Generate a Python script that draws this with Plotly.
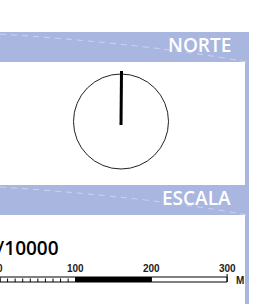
import plotly.graph_objects as go

# ---- data ----
panel_titles = ["NORTE", "ESCALA"]
scale_label = "1/10000"
scale_ticks = [0, 100, 200, 300]
scale_tick_labels = ["0", "100", "200", "300"]
minor_ticks = [0, 10, 20, 30, 40, 50, 60, 70, 80, 90, 100]
scale_unit = "M"

BLUE = "#a9b6e0"
W, H = 273, 304
px_per_m = 0.757  # map scale -> screen

fig = go.Figure()
fig.add_trace(go.Scatter(x=[None], y=[None], xaxis="x", yaxis="y", showlegend=False))
fig.add_trace(go.Scatter(x=[None], y=[None], xaxis="x2", yaxis="y", showlegend=False))

shapes = []
ann = []

# header bands
bands = [(32, 62, 45, panel_titles[0]), (185, 215, 198, panel_titles[1])]
for y0, y1, yt, title in bands:
    shapes.append(dict(type="rect", xref="x", yref="y", x0=0, x1=249, y0=y0, y1=y1,
                       fillcolor=BLUE, line=dict(width=0), layer="below"))
    shapes.append(dict(type="path", xref="x", yref="y",
                       path=f"M 0 {y0+2} Q 150 {y0+12} 247 {y1}",
                       line=dict(color="rgba(225,232,250,0.6)", width=1, dash="6px,5px")))
    ann.append(dict(xref="x", yref="y", x=233, y=yt, text=title, showarrow=False,
                    xanchor="right", yanchor="middle",
                    font=dict(family="Open Sans", size=19, color="white", weight=600)))

# right border
shapes.append(dict(type="rect", xref="x", yref="y", x0=245, x1=249, y0=62, y1=304,
                   fillcolor=BLUE, line=dict(width=0), layer="below"))

# compass
cx, cy, r = 121, 121.5, 47.5
shapes.append(dict(type="circle", xref="x", yref="y", x0=cx-r, x1=cx+r, y0=cy-r, y1=cy+r,
                   line=dict(color="#222", width=1)))
shapes.append(dict(type="line", xref="x", yref="y", x0=121.5, x1=121, y0=71, y1=125,
                   line=dict(color="black", width=3)))

# scale label
ann.append(dict(xref="x", yref="y", x=61, y=248, text=scale_label, showarrow=False,
                xanchor="right", yanchor="middle",
                font=dict(family="Open Sans", size=19, color="black", weight=600)))

# scale bar
yb0, yb1 = 277, 282
lw = dict(color="black", width=1)
shapes.append(dict(type="rect", xref="x2", yref="y", x0=scale_ticks[0], x1=scale_ticks[1],
                   y0=yb0, y1=yb1, fillcolor="white", line=lw))
for t in minor_ticks:
    shapes.append(dict(type="line", xref="x2", yref="y", x0=t, x1=t, y0=yb0 + 1.5, y1=yb1, line=lw))
shapes.append(dict(type="rect", xref="x2", yref="y", x0=scale_ticks[1], x1=scale_ticks[2],
                   y0=yb0, y1=yb1, fillcolor="black", line=lw))
shapes.append(dict(type="rect", xref="x2", yref="y", x0=scale_ticks[2], x1=scale_ticks[3],
                   y0=yb0, y1=yb1, fillcolor="white", line=lw))
shapes.append(dict(type="line", xref="x2", yref="y", x0=scale_ticks[3], x1=scale_ticks[3],
                   y0=yb0 - 3, y1=yb1, line=lw))

for t, lab in zip(scale_ticks, scale_tick_labels):
    ann.append(dict(xref="x2", yref="y", x=t, y=268, text=f"<b>{lab}</b>", showarrow=False,
                    xanchor="center", yanchor="middle",
                    font=dict(family="Liberation Sans", size=10, color="#222")))
ann.append(dict(xref="x", yref="y", x=239.5, y=280, text=f"<b>{scale_unit}</b>",
                showarrow=False, xanchor="center", yanchor="middle",
                font=dict(family="Liberation Sans", size=10, color="#222")))

fig.update_layout(
    width=W, height=H, margin=dict(l=0, r=0, t=0, b=0),
    paper_bgcolor="white", plot_bgcolor="white",
    xaxis=dict(range=[0, W], visible=False, domain=[0, 1], fixedrange=True),
    xaxis2=dict(range=[0, W / px_per_m], visible=False, overlaying="x", fixedrange=True),
    yaxis=dict(range=[H, 0], visible=False, fixedrange=True),
    shapes=shapes, annotations=ann, showlegend=False,
)

fig.write_html("out.html", config={"displayModeBar": False},
               post_script="document.body.style.margin='0';")
